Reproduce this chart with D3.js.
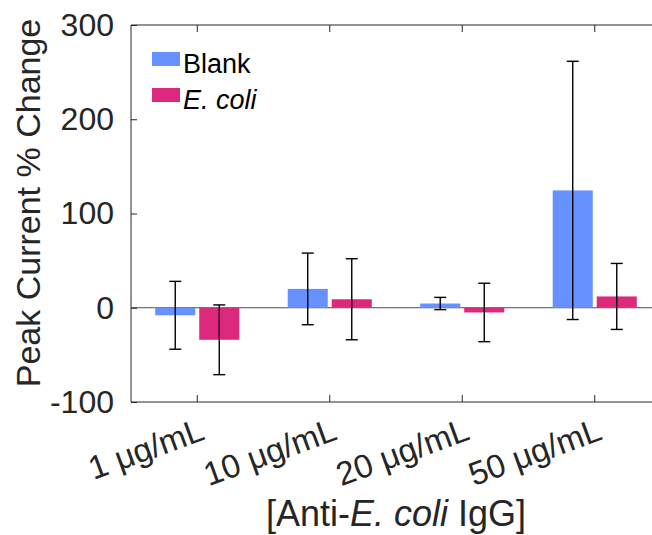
<!DOCTYPE html>
<html>
<head>
<meta charset="utf-8">
<script src="https://cdn.jsdelivr.net/npm/d3@7"></script>
<style>
  body { margin: 0; background: #fff; }
  svg { display: block; font-family: "Liberation Sans", Arial, sans-serif; }
</style>
</head>
<body>
<div id="chart"></div>
<script>
// data
const categories = ["1 μg/mL", "10 μg/mL", "20 μg/mL", "50 μg/mL"];
const seriesNames = ["Blank", "E. coli"];
const blankValues = [-8, 20, 4.5, 124.5];
const blankErrors = [36, 38, 6.5, 137];
const ecoliValues = [-34, 9, -5, 12];
const ecoliErrors = [37, 43, 31, 35];
const yTicks = [-100, 0, 100, 200, 300];

const cfg = {
  width: 652, height: 535,
  margin: { left: 131, right: -9, top: 25, bottom: 133 }
};
const colors = { "Blank": "#6691ff", "E. coli": "#dc287d" };
const axisColor = "#262626";

// build rows for drawing
const rows = [];
categories.forEach((c, i) => {
  rows.push({ cat: c, series: "Blank", value: blankValues[i], err: blankErrors[i] });
  rows.push({ cat: c, series: "E. coli", value: ecoliValues[i], err: ecoliErrors[i] });
});

const x0 = cfg.margin.left, x1 = cfg.width - cfg.margin.right;
const yTop = cfg.margin.top, yBot = cfg.height - cfg.margin.bottom;

const xScale = d3.scaleBand(categories, [x0, x1]).padding(0);
const xSub = d3.scaleBand(seriesNames, [0, xScale.bandwidth()])
  .paddingInner(0.09).paddingOuter(0.55);
const yScale = d3.scaleLinear([-100, 300], [yBot, yTop]);

const svg = d3.select("#chart").append("svg")
  .attr("width", cfg.width).attr("height", cfg.height);

// zero baseline
svg.append("line")
  .attr("x1", x0).attr("x2", x1)
  .attr("y1", yScale(0)).attr("y2", yScale(0))
  .style("stroke", "#4d4d4d").style("stroke-width", 1);

// bars
svg.append("g").attr("class", "bars")
  .selectAll("rect")
  .data(rows)
  .join("rect")
  .attr("x", d => xScale(d.cat) + xSub(d.series))
  .attr("width", xSub.bandwidth())
  .attr("y", d => yScale(Math.max(0, d.value)))
  .attr("height", d => Math.abs(yScale(d.value) - yScale(0)))
  .style("fill", d => colors[d.series]);

// error bars
const eb = svg.append("g").attr("class", "errbars")
  .selectAll("g")
  .data(rows)
  .join("g")
  .attr("transform", d => `translate(${xScale(d.cat) + xSub(d.series) + xSub.bandwidth() / 2},0)`)
  .style("stroke", "#000").style("stroke-width", 1.4);
eb.append("line")
  .attr("y1", d => yScale(d.value + d.err))
  .attr("y2", d => yScale(d.value - d.err));
eb.append("line").attr("x1", -6).attr("x2", 6)
  .attr("y1", d => yScale(d.value + d.err)).attr("y2", d => yScale(d.value + d.err));
eb.append("line").attr("x1", -6).attr("x2", 6)
  .attr("y1", d => yScale(d.value - d.err)).attr("y2", d => yScale(d.value - d.err));

// axes box (left, top, bottom)
const box = svg.append("g").style("stroke", axisColor).style("stroke-width", 1);
box.append("line").attr("x1", x0).attr("x2", x0).attr("y1", yTop).attr("y2", yBot);
box.append("line").attr("x1", x0).attr("x2", x1).attr("y1", yTop).attr("y2", yTop);
box.append("line").attr("x1", x0).attr("x2", x1).attr("y1", yBot).attr("y2", yBot);

// y axis ticks + labels (plain hyphen for negatives)
const yAxis = d3.axisLeft(yScale).tickValues(yTicks).tickFormat(d => String(d))
  .tickSizeInner(-6).tickSizeOuter(0).tickPadding(17);
const gy = svg.append("g").attr("transform", `translate(${x0},0)`).call(yAxis);
gy.select(".domain").remove();
gy.selectAll(".tick line").style("stroke", axisColor);
gy.selectAll(".tick text")
  .style("font-size", "32px").style("fill", axisColor)
  .style("font-family", "Liberation Sans, Arial, sans-serif");

// x ticks bottom (inward) and top (inward)
const xCenter = d => xScale(d) + xScale.bandwidth() / 2;
svg.append("g").selectAll("line").data(categories).join("line")
  .attr("x1", xCenter).attr("x2", xCenter)
  .attr("y1", yBot).attr("y2", yBot - 7)
  .style("stroke", axisColor);
svg.append("g").selectAll("line").data(categories).join("line")
  .attr("x1", xCenter).attr("x2", xCenter)
  .attr("y1", yTop).attr("y2", yTop + 7)
  .style("stroke", axisColor);

// rotated x tick labels
svg.append("g").selectAll("text").data(categories).join("text")
  .attr("transform", d => `translate(${xCenter(d) + 9},${yBot + 37}) rotate(-20)`)
  .attr("text-anchor", "end")
  .style("font-size", "33px").style("fill", axisColor)
  .text(d => d);

// axis titles
const xt = svg.append("text")
  .attr("x", (x0 + x1) / 2).attr("y", 526)
  .attr("text-anchor", "middle")
  .style("font-size", "36px").style("fill", axisColor);
xt.append("tspan").text("[Anti-");
xt.append("tspan").style("font-style", "italic").text("E. coli");
xt.append("tspan").text(" IgG]");

svg.append("text")
  .attr("transform", "translate(40,203) rotate(-90)")
  .attr("text-anchor", "middle")
  .style("font-size", "34px").style("fill", axisColor)
  .text("Peak Current % Change");

// legend
const legend = svg.append("g").attr("transform", "translate(152,52)");
const li = legend.selectAll("g").data(seriesNames).join("g")
  .attr("transform", (d, i) => `translate(0,${i * 36})`);
li.append("rect").attr("width", 28).attr("height", 14)
  .style("fill", d => colors[d]);
li.append("text").attr("x", 31).attr("y", 21)
  .style("font-size", "27px").style("fill", "#000")
  .style("font-style", d => d === "E. coli" ? "italic" : "normal")
  .text(d => d);
</script>
</body>
</html>
